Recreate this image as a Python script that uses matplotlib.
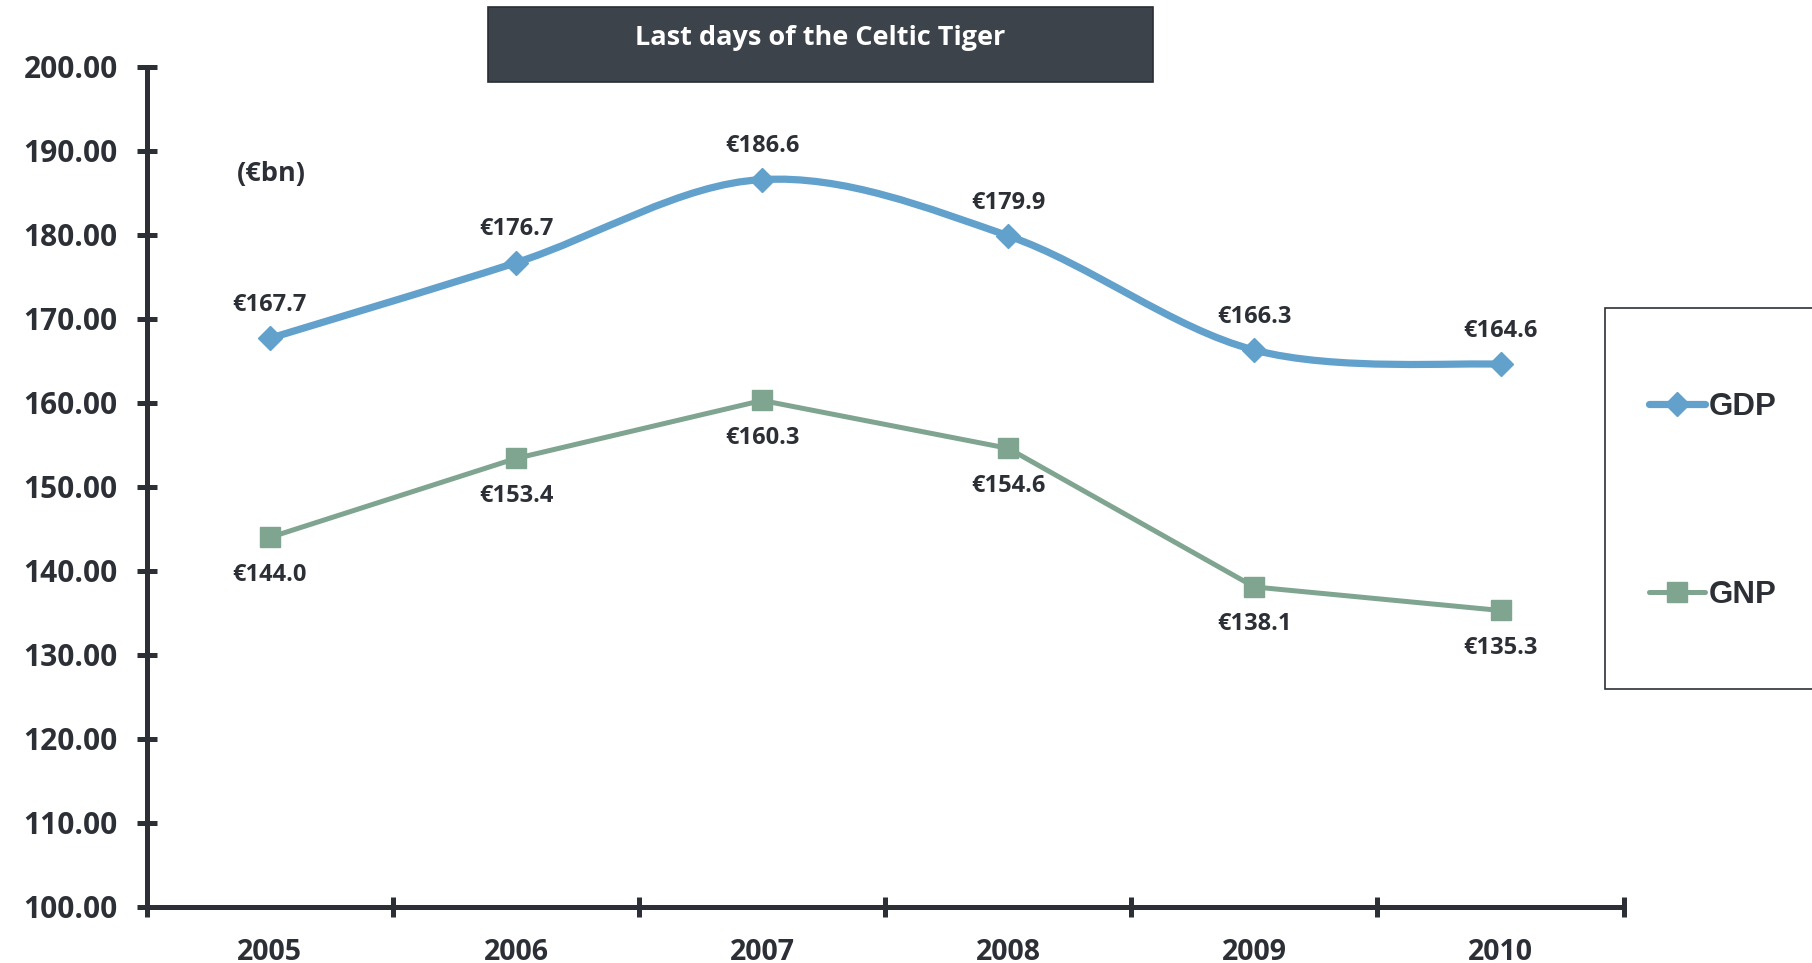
import numpy as np
import matplotlib
matplotlib.use("Agg")
import matplotlib.pyplot as plt
from matplotlib.path import Path
from matplotlib.patches import PathPatch, Rectangle
from matplotlib.lines import Line2D

years = ["2005", "2006", "2007", "2008", "2009", "2010"]
gdp = [167.7, 176.7, 186.6, 179.9, 166.3, 164.6]
gnp = [144.0, 153.4, 160.3, 154.6, 138.1, 135.3]
series_names = ["GDP", "GNP"]
title = "Last days of the Celtic Tiger"
unit_label = "(€bn)"

DARK = "#2c3036"
GDP_C = "#62a1cb"
GNP_C = "#7fa490"
FONT = "Open Sans"

W, H = 1812, 963
fig = plt.figure(figsize=(W / 100, H / 100), dpi=100)
ax = fig.add_axes([146.8 / W, 1 - 907 / H, (1623.6 - 146.8) / W, (907 - 67) / H])

x = np.arange(1, len(years) + 1)


def smooth_path(xs, ys):
    pts = np.column_stack([xs, ys]).astype(float)
    n = len(pts)
    verts = [pts[0]]
    codes = [Path.MOVETO]
    for i in range(n - 1):
        p0 = pts[i - 1] if i > 0 else pts[i]
        p1 = pts[i]
        p2 = pts[i + 1]
        p3 = pts[i + 2] if i + 2 < n else pts[i + 1]
        c1 = p1 + (p2 - p0) / 6.0
        c2 = p2 - (p3 - p1) / 6.0
        verts += [c1, c2, p2]
        codes += [Path.CURVE4] * 3
    return Path(verts, codes)


ax.add_patch(PathPatch(smooth_path(x, gdp), facecolor="none", edgecolor=GDP_C,
                       lw=5.2, capstyle="round", joinstyle="round", zorder=3))
ax.plot(x, gdp, linestyle="none", marker="D", ms=12, color=GDP_C, zorder=4)
ax.plot(x, gnp, color=GNP_C, lw=3.6, marker="s", ms=14, zorder=3,
        solid_capstyle="round")

for xi, v in zip(x, gdp):
    ax.annotate(f"€{v:.1f}", (xi, v), xytext=(0, 24), textcoords="offset points",
                ha="center", va="center", fontsize=17, fontweight="bold",
                family=FONT, color=DARK)
for xi, v in zip(x, gnp):
    ax.annotate(f"€{v:.1f}", (xi, v), xytext=(0, -27), textcoords="offset points",
                ha="center", va="center", fontsize=17, fontweight="bold",
                family=FONT, color=DARK)

ax.set_xlim(0.5, len(years) + 0.5)
ax.set_ylim(100, 200)
ax.set_yticks(np.arange(100, 201, 10))
ax.set_yticklabels([f"{v:.2f}" for v in np.arange(100, 201, 10)])
ax.set_xticks(np.arange(0.5, len(years) + 1, 1))
ax.set_xticklabels([])
ax.set_xticks(x, minor=True)
ax.set_xticklabels(years, minor=True)

for s in ["top", "right"]:
    ax.spines[s].set_visible(False)
for s in ["left", "bottom"]:
    ax.spines[s].set_color(DARK)
    ax.spines[s].set_linewidth(3.6)
    ax.spines[s].set_capstyle("butt")

ax.tick_params(axis="y", which="major", direction="inout", length=14, width=3.6,
               color=DARK, pad=14, labelsize=21.5, labelcolor=DARK)
ax.tick_params(axis="x", which="major", direction="inout", length=14, width=3.6,
               color=DARK)
ax.tick_params(axis="x", which="minor", length=0, pad=22, labelsize=20.5,
               labelcolor=DARK)
for lab in ax.get_yticklabels() + ax.get_xticklabels(minor=True):
    lab.set_family(FONT)
    lab.set_fontweight("bold")

fig.text(271 / W, 1 - 173.5 / H, unit_label, ha="center", va="center",
         fontsize=19.5, fontweight="bold", family=FONT, color=DARK)

# title box
fig.patches.append(Rectangle((488 / W, 1 - 82 / H), (1153 - 488) / W, 75 / H,
                             transform=fig.transFigure, facecolor="#3d434b",
                             edgecolor="#2a2e33", lw=1.2))
fig.text(820 / W, 1 - 45 / H, title, ha="center", va="baseline", fontsize=19.5,
         fontweight="bold", family=FONT, color="white")

# legend frame
fig.patches.append(Rectangle((1605 / W, 1 - 689 / H), 260 / W, 381 / H,
                             transform=fig.transFigure, facecolor="white",
                             edgecolor=DARK, lw=1.2, clip_on=False))
handles = [Line2D([], [], color=GDP_C, lw=5.2, marker="D", ms=12,
                  solid_capstyle="round"),
           Line2D([], [], color=GNP_C, lw=3.6, marker="s", ms=15,
                  solid_capstyle="round")]
leg = fig.legend(handles, series_names, loc="center left",
                 bbox_to_anchor=(1649 / W, 1 - 501 / H), frameon=False,
                 borderpad=0, borderaxespad=0, handlelength=1.8,
                 handletextpad=0.1, labelspacing=5.08,
                 prop={"family": "Liberation Sans", "weight": "bold", "size": 22.5})
for t in leg.get_texts():
    t.set_color(DARK)

fig.savefig("out.png", dpi=100, facecolor="white")
